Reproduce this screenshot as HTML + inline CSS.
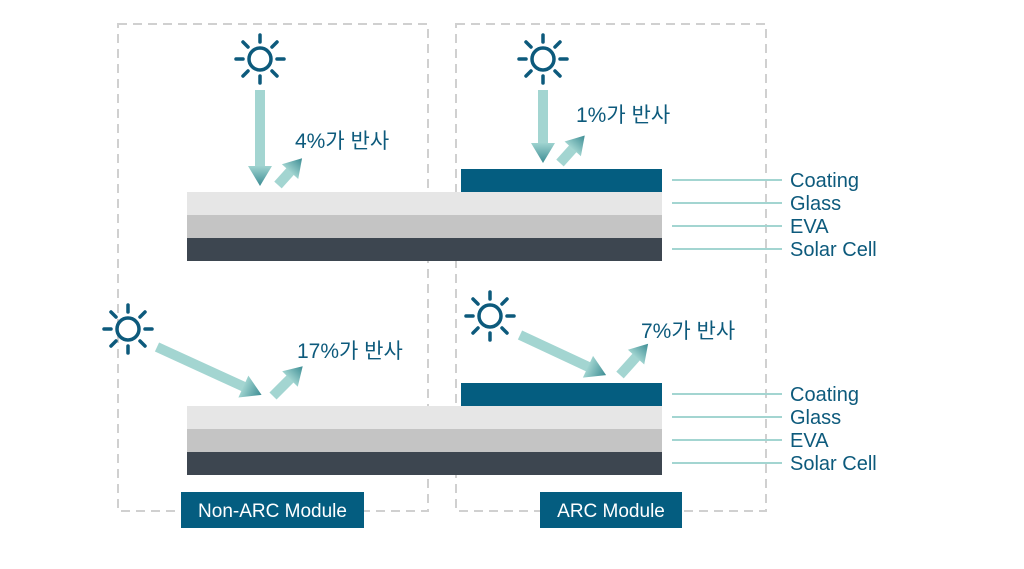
<!DOCTYPE html>
<html><head><meta charset="utf-8"><style>
html,body{margin:0;padding:0;background:#fff;}
svg{display:block;}
text{font-family:"Liberation Sans","Noto Sans CJK KR",sans-serif;}
</style></head><body>
<svg width="1024" height="569" viewBox="0 0 1024 569" xmlns="http://www.w3.org/2000/svg">
<defs>
<linearGradient id="hg" x1="0" y1="0" x2="1" y2="0"><stop offset="0" stop-color="#9fd3cf"/><stop offset="1" stop-color="#3c8c93"/></linearGradient>
<g id="sun" fill="none" stroke="#0d5a7c" stroke-width="3.5" stroke-linecap="round">
<circle r="11"/>
<line x1="0" y1="-17" x2="0" y2="-24"/><line x1="0" y1="17" x2="0" y2="24"/>
<line x1="-17" y1="0" x2="-24" y2="0"/><line x1="17" y1="0" x2="24" y2="0"/>
<line x1="12" y1="-12" x2="17" y2="-17"/><line x1="-12" y1="-12" x2="-17" y2="-17"/>
<line x1="12" y1="12" x2="17" y2="17"/><line x1="-12" y1="12" x2="-17" y2="17"/>
</g>
</defs>
<g fill="none" stroke="#d0d0d0" stroke-width="2" stroke-dasharray="9,6">
<rect x="118" y="24" width="310" height="487"/>
<rect x="456" y="24" width="310" height="487"/>
</g>
<rect x="187" y="192" width="475" height="23" fill="#e6e6e6"/>
<rect x="187" y="215" width="475" height="23" fill="#c4c4c4"/>
<rect x="187" y="238" width="475" height="23" fill="#3d4650"/>
<rect x="461" y="169" width="201" height="23" fill="#045d80"/>
<rect x="187" y="406" width="475" height="23" fill="#e6e6e6"/>
<rect x="187" y="429" width="475" height="23" fill="#c4c4c4"/>
<rect x="187" y="452" width="475" height="23" fill="#3d4650"/>
<rect x="461" y="383" width="201" height="23" fill="#045d80"/>
<g stroke="#a3d5d1" stroke-width="2">
<line x1="672" y1="180" x2="782" y2="180"/><line x1="672" y1="203" x2="782" y2="203"/>
<line x1="672" y1="226" x2="782" y2="226"/><line x1="672" y1="249" x2="782" y2="249"/>
<line x1="672" y1="394" x2="782" y2="394"/><line x1="672" y1="417" x2="782" y2="417"/>
<line x1="672" y1="440" x2="782" y2="440"/><line x1="672" y1="463" x2="782" y2="463"/>
</g>
<g fill="#0d5a7c" font-size="20">
<text x="790" y="187">Coating</text><text x="790" y="210">Glass</text>
<text x="790" y="233">EVA</text><text x="790" y="256">Solar Cell</text>
<text x="790" y="401">Coating</text><text x="790" y="424">Glass</text>
<text x="790" y="447">EVA</text><text x="790" y="470">Solar Cell</text>
</g>
<g fill="#0d5a7c" font-size="21">
<text x="295" y="148">4%가 반사</text>
<text x="576" y="122">1%가 반사</text>
<text x="297" y="358">17%가 반사</text>
<text x="641" y="338">7%가 반사</text>
</g>
<use href="#sun" x="260" y="59"/>
<use href="#sun" x="543" y="59"/>
<use href="#sun" x="128" y="329"/>
<use href="#sun" x="490" y="316"/>
<g transform="translate(260,90) rotate(90)"><rect x="0" y="-5" width="78" height="10" fill="#a3d5d1"/><polygon points="76,-12 96,0 76,12" fill="url(#hg)"/></g>
<g transform="translate(278,185) rotate(-48)"><rect x="0" y="-5" width="22" height="10" fill="#a3d5d1"/><polygon points="18,-11 36,0 18,11" fill="url(#hg)"/></g>
<g transform="translate(543,90) rotate(90)"><rect x="0" y="-5" width="55" height="10" fill="#a3d5d1"/><polygon points="53,-12 73,0 53,12" fill="url(#hg)"/></g>
<g transform="translate(560,163) rotate(-48)"><rect x="0" y="-5" width="22" height="10" fill="#a3d5d1"/><polygon points="19,-11 37,0 19,11" fill="url(#hg)"/></g>
<g transform="translate(157,347) rotate(24.6)"><rect x="0" y="-5" width="97" height="10" fill="#a3d5d1"/><polygon points="95,-12 115,0 95,12" fill="url(#hg)"/></g>
<g transform="translate(273,396) rotate(-45)"><rect x="0" y="-5" width="26" height="10" fill="#a3d5d1"/><polygon points="24,-11 42,0 24,11" fill="url(#hg)"/></g>
<g transform="translate(520,335) rotate(25)"><rect x="0" y="-5" width="77" height="10" fill="#a3d5d1"/><polygon points="75,-12 95,0 75,12" fill="url(#hg)"/></g>
<g transform="translate(620,375) rotate(-48)"><rect x="0" y="-5" width="26" height="10" fill="#a3d5d1"/><polygon points="24,-11 42,0 24,11" fill="url(#hg)"/></g>
<rect x="181" y="492" width="183" height="36" fill="#045d80"/>
<rect x="540" y="492" width="142" height="36" fill="#045d80"/>
<g fill="#fff" font-size="19" text-anchor="middle">
<text x="272.5" y="517">Non-ARC Module</text>
<text x="611" y="517">ARC Module</text>
</g>
</svg>
</body></html>
